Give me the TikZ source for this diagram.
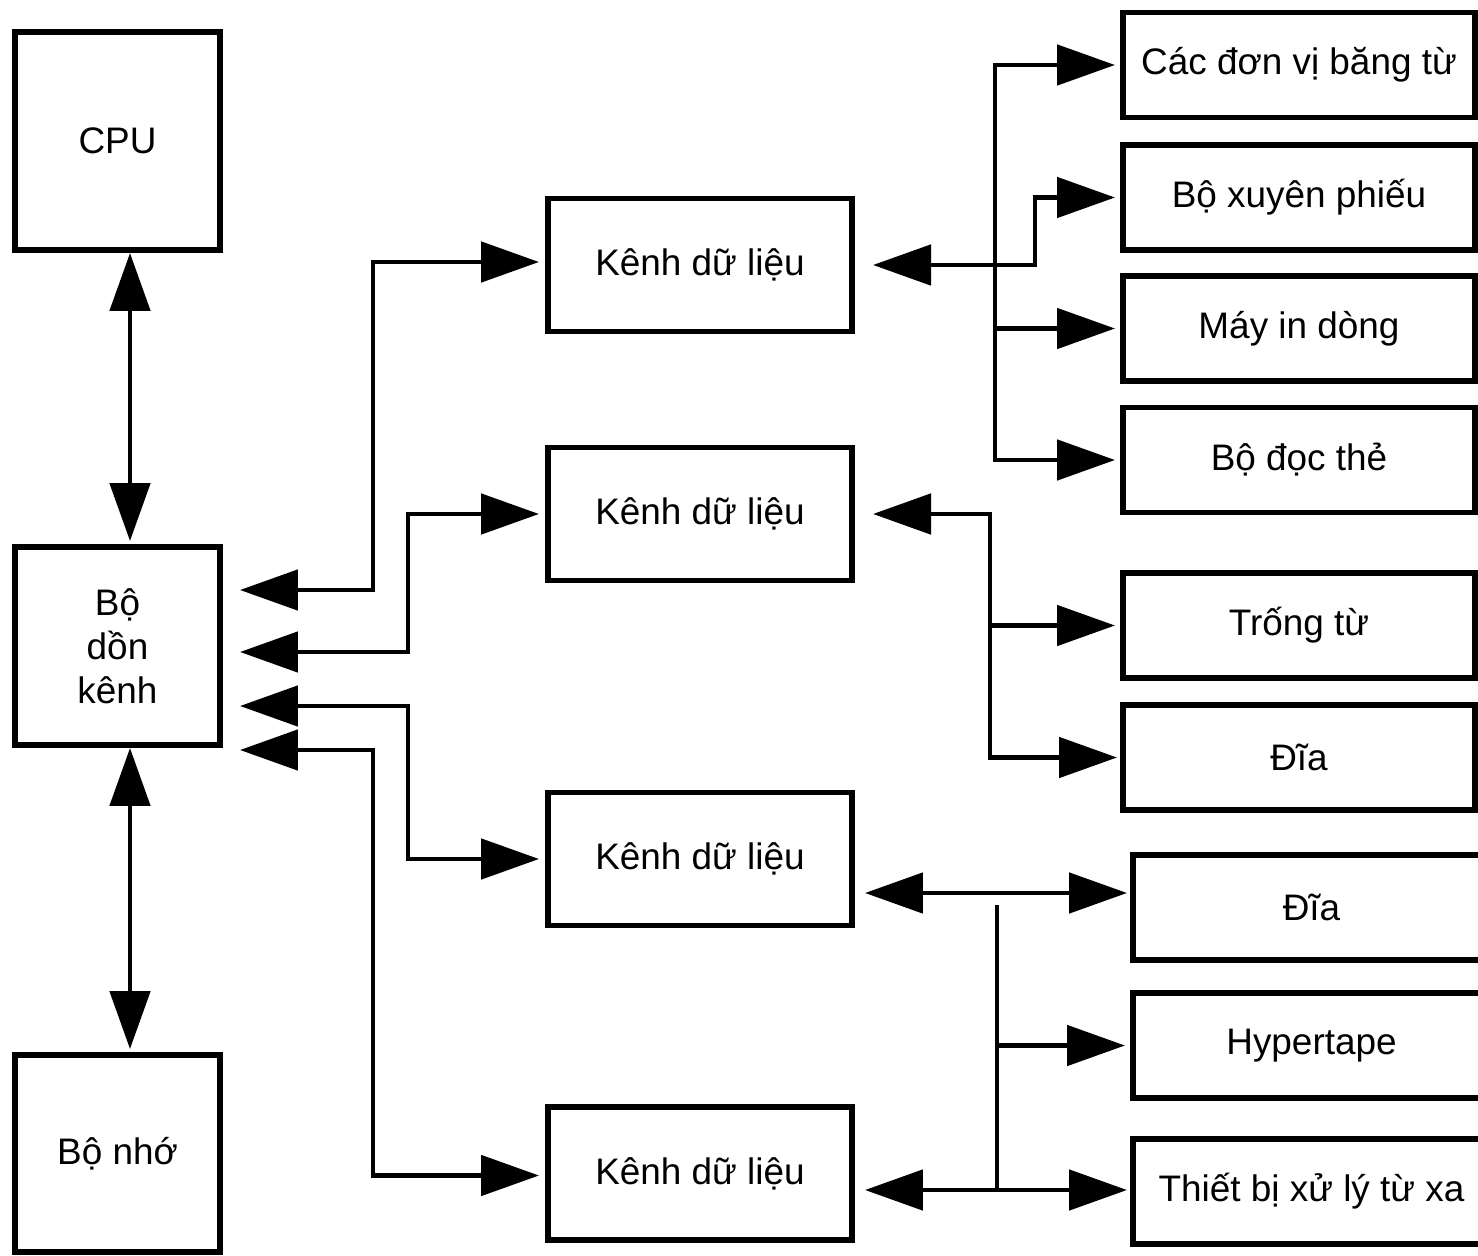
\documentclass[tikz,border=0pt]{standalone}
\usepackage{fontspec}
\setmainfont{Liberation Sans}
\usepackage{tikz}
\usetikzlibrary{arrows.meta}
\tikzset{
  box/.style={rectangle, draw, line width=1.7pt, fill=white, align=center,
    font=\fontsize{10.5}{12.5}\selectfont, inner sep=2pt},
  unitbox/.style={box, minimum width=2.05cm},
  chanbox/.style={box, minimum width=3.04cm, minimum height=1.33cm},
  devbox/.style={box, minimum width=3.52cm, minimum height=1.05cm},
  devboxwide/.style={box, minimum width=3.57cm, minimum height=1.05cm},
  link/.style={line width=1.4pt},
  arrow/.style={link, ->, shorten >=0.5mm},
  backarrow/.style={link, <-},
  biarrow/.style={link, <->, shorten >=0.3mm},
  >={Triangle[length=5.8mm, width=4mm]},
}
\begin{document}
\begin{tikzpicture}
  \clip (0,0) rectangle (14.78,-12.56);
  \fill[white] (0,0) rectangle (14.78,-12.56);

  \node[unitbox, minimum height=2.18cm] (cpu) at (1.175,-1.41) {CPU};
  \node[unitbox, minimum height=1.98cm] (mux) at (1.175,-6.46) {Bộ\\dồn\\kênh};
  \node[unitbox, minimum height=1.97cm] (mem) at (1.175,-11.535) {Bộ nhớ};

  \node[chanbox] (k1) at (7.00,-2.65)   {Kênh dữ liệu};
  \node[chanbox] (k2) at (7.00,-5.14)   {Kênh dữ liệu};
  \node[chanbox] (k3) at (7.00,-8.59)   {Kênh dữ liệu};
  \node[chanbox] (k4) at (7.00,-11.735) {Kênh dữ liệu};

  \node[devbox] (d1) at (12.99,-0.65)  {Các đơn vị băng từ};
  \node[devbox] (d2) at (12.99,-1.975) {Bộ xuyên phiếu};
  \node[devbox] (d3) at (12.99,-3.285) {Máy in dòng};
  \node[devbox] (d4) at (12.99,-4.60)  {Bộ đọc thẻ};
  \node[devbox] (d5) at (12.99,-6.255) {Trống từ};
  \node[devbox] (d6) at (12.99,-7.575) {Đĩa};
  \node[devboxwide] (d7) at (13.115,-9.075)  {Đĩa};
  \node[devboxwide] (d8) at (13.115,-10.455) {Hypertape};
  \node[devboxwide] (d9) at (13.115,-11.915) {Thiết bị xử lý từ xa};

  \coordinate (busA) at (9.95,0);
  \coordinate (jogA) at (10.35,0);
  \coordinate (busB) at (9.90,0);
  \coordinate (busC) at (9.97,0);

  \draw[biarrow] ([xshift=1.25mm]cpu.south) -- ([xshift=1.25mm]mux.north);
  \draw[biarrow] ([xshift=1.25mm]mux.south) -- ([xshift=1.25mm]mem.north);

  \draw[biarrow] ([xshift=1.7mm,yshift=5.6mm]mux.east) -- ++(1.33,0)
    |- ([xshift=-0.3mm,yshift=0.3mm]k1.west);
  \draw[biarrow] ([xshift=1.7mm,yshift=-0.6mm]mux.east) -- ++(1.68,0)
    |- ([xshift=-0.3mm]k2.west);
  \draw[biarrow] ([xshift=1.7mm,yshift=-6mm]mux.east) -- ++(1.68,0)
    |- ([xshift=-0.3mm]k3.west);
  \draw[biarrow] ([xshift=1.7mm,yshift=-10.4mm]mux.east) -- ++(1.33,0)
    |- ([xshift=-0.3mm,yshift=-0.2mm]k4.west);

  \draw[backarrow] ([xshift=1.8mm]k1.east) -- (k1.east -| busA);
  \draw[arrow] (k1.east -| busA) |- (d1.west);
  \draw[arrow] (k1.east -| busA) |- (d4.west);
  \draw[arrow] (k1.east -| busA) -- (k1.east -| jogA) |- (d2.west);
  \draw[arrow] (d3.west -| busA) -- (d3.west);

  \draw[biarrow] ([xshift=1.8mm]k2.east) -- (k2.east -| busB) |- (d6.west);
  \draw[arrow] (d5.west -| busB) -- (d5.west);

  \coordinate (k3out) at ([xshift=1mm,yshift=-3.4mm]k3.east);
  \draw[biarrow] (k3out) -- (k3out -| d7.west);

  \coordinate (k4out) at ([xshift=1mm,yshift=-1.65mm]k4.east);
  \draw[biarrow] (k4out) -- (k4out -| d9.west);
  \draw[link] (k4out -| busC) -- ++(0,2.85);
  \draw[arrow] (d8.west -| busC) -- (d8.west);
\end{tikzpicture}
\end{document}
